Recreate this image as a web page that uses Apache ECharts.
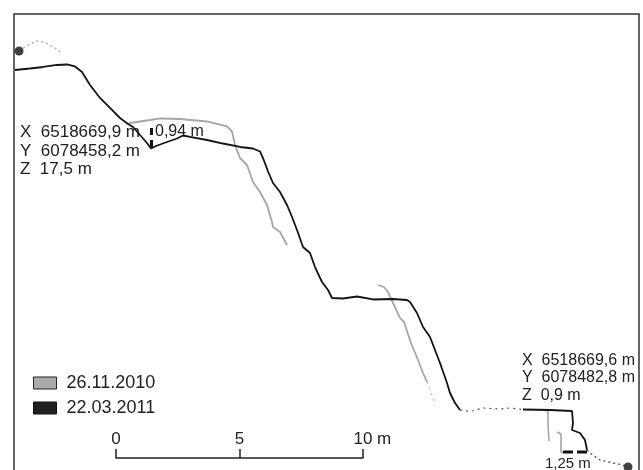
<!DOCTYPE html>
<html>
<head>
<meta charset="utf-8">
<script src="https://cdn.jsdelivr.net/npm/echarts@6/dist/echarts.min.js"></script>
<style>
  html, body { margin: 0; padding: 0; background: #fff; }
  #chart { width: 643px; height: 470px; }
</style>
</head>
<body>
<div id="chart"></div>
<script>
// profile points in metres (distance, height)
const blackMain = [
  [-4.089, 16.761], [-3.482, 16.822], [-2.955, 16.883], [-2.389, 16.964], [-1.984, 16.984],
  [-1.660, 16.903], [-1.377, 16.680], [-1.053, 16.154], [-0.648, 15.628], [-0.243, 15.223],
  [0.162, 14.818], [0.486, 14.575], [0.688, 14.453], [0.972, 14.130], [1.255, 13.806],
  [1.417, 13.583], [1.619, 13.684], [2.065, 13.846], [2.470, 13.988], [2.713, 14.109],
  [2.996, 14.049], [3.684, 13.927], [4.332, 13.785], [5.020, 13.644], [5.547, 13.583],
  [5.830, 13.462], [5.951, 13.198], [6.154, 12.652], [6.356, 12.186], [6.640, 11.822],
  [6.923, 11.296], [7.126, 10.810], [7.328, 10.283], [7.571, 9.595], [7.854, 9.352],
  [8.057, 8.785], [8.340, 8.178], [8.583, 7.854], [8.745, 7.530], [9.190, 7.510],
  [9.757, 7.591], [10.405, 7.470], [11.215, 7.490], [11.781, 7.449], [11.903, 7.368],
  [12.186, 6.923], [12.429, 6.356], [12.713, 5.951], [12.915, 5.425], [13.117, 4.899],
  [13.401, 4.089], [13.522, 3.684], [13.725, 3.279], [13.927, 2.996]
];
const blackGap = [
  [13.927, 2.996], [14.332, 2.935], [14.858, 3.077], [15.547, 3.036], [15.951, 3.077], [16.478, 3.016]
];
const blackLow = [
  [16.478, 3.016], [17.571, 2.996], [18.462, 2.955], [18.502, 2.470], [18.462, 2.186],
  [18.785, 2.065], [18.988, 1.781], [19.069, 1.377]
];
const blackTail = [
  [19.069, 1.377], [19.190, 1.255], [19.595, 0.972], [20.121, 0.850], [20.526, 0.769], [20.729, 0.688]
];

const grayTop = [
  [-3.927, 17.530], [-3.684, 17.692], [-3.482, 17.814], [-3.198, 17.935], [-2.915, 17.895],
  [-2.672, 17.773], [-2.470, 17.652], [-2.267, 17.490]
];
const grayUpper = [
  [0.486, 14.575], [0.567, 14.615], [0.972, 14.676], [1.377, 14.737], [1.781, 14.798],
  [2.591, 14.777], [3.684, 14.676], [4.494, 14.474], [4.696, 14.271], [4.818, 13.725],
  [5.020, 13.198], [5.304, 12.915], [5.547, 12.227], [5.830, 11.822], [6.113, 11.296],
  [6.316, 10.607], [6.356, 10.405], [6.640, 10.202], [6.923, 9.676]
];
const grayMiddle = [
  [10.607, 8.057], [10.850, 7.976], [11.012, 7.773], [11.215, 7.328], [11.498, 6.721],
  [11.660, 6.559], [11.943, 5.709], [12.227, 5.020], [12.429, 4.494], [12.591, 4.130]
];
const grayMiddleTail = [[12.591, 4.130], [12.713, 3.806], [12.834, 3.482], [12.915, 3.198]];
const grayLowA = [[17.166, 3.016], [17.490, 2.955], [17.490, 2.389], [17.530, 1.741]];
const grayLowB = [[17.854, 2.105], [18.016, 2.024], [18.016, 1.296], [18.097, 1.255]];

const endPoints = [[-3.927, 17.530], [20.729, 0.688]];
const diffUpper = [[1.437, 14.413], [1.437, 13.583]];   // 0,94 m
const diffLower = [[18.097, 1.296], [19.109, 1.296]];   // 1,25 m

const seriesNames = ['26.11.2010', '22.03.2011'];
const scaleTicks = [0, 5, 10];

const GRAY = '#a6a6a6';
const BLACK = '#141414';
const FONT = 'Liberation Sans, Arial, sans-serif';

const chart = echarts.init(document.getElementById('chart'), null, { renderer: 'canvas' });

function line(name, data, color, width, type, z) {
  return {
    name: name,
    type: 'line',
    data: data,
    xAxisIndex: 0,
    yAxisIndex: 0,
    symbol: 'none',
    smooth: false,
    z: z,
    lineStyle: { color: color, width: width, type: type || 'solid' },
    itemStyle: { color: color },
    silent: true
  };
}

const option = {
  animation: false,
  backgroundColor: '#fff',
  grid: [
    {
      left: 14, top: 14, width: 625, height: 470, outerBoundsMode: 'none',
      show: true, borderColor: '#333', borderWidth: 1.5, backgroundColor: 'transparent'
    },
    { left: 116, top: 448, width: 247, height: 10, outerBoundsMode: 'none' }
  ],
  xAxis: [
    { type: 'value', min: -4.13, max: 21.174, show: false, gridIndex: 0 },
    {
      type: 'value', gridIndex: 1, min: 0, max: 10, interval: 5,
      axisLine: { show: true, lineStyle: { color: '#222', width: 1.5 } },
      axisTick: { show: true, inside: true, length: 9, lineStyle: { color: '#222', width: 1.5 } },
      axisLabel: {
        inside: true, margin: 10, color: '#222', fontSize: 17, fontFamily: FONT,
        customValues: scaleTicks
      },
      splitLine: { show: false }
    }
  ],
  yAxis: [
    { type: 'value', min: 0, max: 19.028, show: false, gridIndex: 0 },
    { type: 'value', gridIndex: 1, min: 0, max: 1, show: false }
  ],
  legend: {
    orient: 'vertical',
    left: 33,
    top: 374,
    padding: 0,
    itemWidth: 23,
    itemHeight: 12,
    itemGap: 7,
    textStyle: { fontSize: 18, color: '#222', fontFamily: FONT, padding: [0, 0, 0, 5] },
    data: [
      { name: seriesNames[0], icon: 'rect', itemStyle: { color: '#aaaaaa', borderColor: '#222', borderWidth: 1 } },
      { name: seriesNames[1], icon: 'rect', itemStyle: { color: '#231f20', borderColor: '#111', borderWidth: 1 } }
    ],
    selectedMode: false
  },
  series: [
    line(seriesNames[0], grayTop, '#b0b0b0', 1.5, [2, 3], 2),
    line(seriesNames[0], grayUpper, GRAY, 1.8, 'solid', 2),
    line(seriesNames[0], grayMiddle, GRAY, 1.8, 'solid', 2),
    line(seriesNames[0], grayMiddleTail, '#b5b5b5', 1.2, [2, 4], 2),
    line(seriesNames[0], grayLowA, GRAY, 1.6, 'solid', 2),
    line(seriesNames[0], grayLowB, GRAY, 1.6, 'solid', 2),
    line(seriesNames[1], blackMain, BLACK, 1.8, 'solid', 3),
    line(seriesNames[1], blackGap, '#555', 1.2, [2, 4], 3),
    line(seriesNames[1], blackLow, BLACK, 1.8, 'solid', 3),
    line(seriesNames[1], blackTail, '#444', 1.2, [2, 3], 3),
    line('diff1', diffUpper, '#111', 3, [7, 5], 4),
    line('diff2', diffLower, '#111', 3, [10, 4], 4),
    {
      name: 'ends',
      type: 'scatter',
      data: endPoints,
      symbolSize: 9,
      itemStyle: { color: '#111' },
      z: 5,
      silent: true
    }
  ],
  graphic: [
    { type: 'text', left: 20, top: 124, style: { text: 'X  6518669,9 m', font: '17px ' + FONT, fill: '#222' } },
    { type: 'text', left: 20, top: 143, style: { text: 'Y  6078458,2 m', font: '17px ' + FONT, fill: '#222' } },
    { type: 'text', left: 20, top: 161, style: { text: 'Z  17,5 m', font: '17px ' + FONT, fill: '#222' } },
    { type: 'text', left: 155, top: 124, style: { text: '0,94 m', font: '16px ' + FONT, fill: '#222' } },
    { type: 'text', left: 522, top: 353, style: { text: 'X  6518669,6 m', font: '16px ' + FONT, fill: '#222' } },
    { type: 'text', left: 522, top: 370, style: { text: 'Y  6078482,8 m', font: '16px ' + FONT, fill: '#222' } },
    { type: 'text', left: 522, top: 388, style: { text: 'Z  0,9 m', font: '16px ' + FONT, fill: '#222' } },
    { type: 'text', left: 545, top: 456, style: { text: '1,25 m', font: '15px ' + FONT, fill: '#222' } },
    { type: 'text', left: 377, top: 431, style: { text: 'm', font: '17px ' + FONT, fill: '#222' } }
  ]
};

chart.setOption(option);
window.addEventListener('resize', () => chart.resize());
</script>
</body>
</html>
